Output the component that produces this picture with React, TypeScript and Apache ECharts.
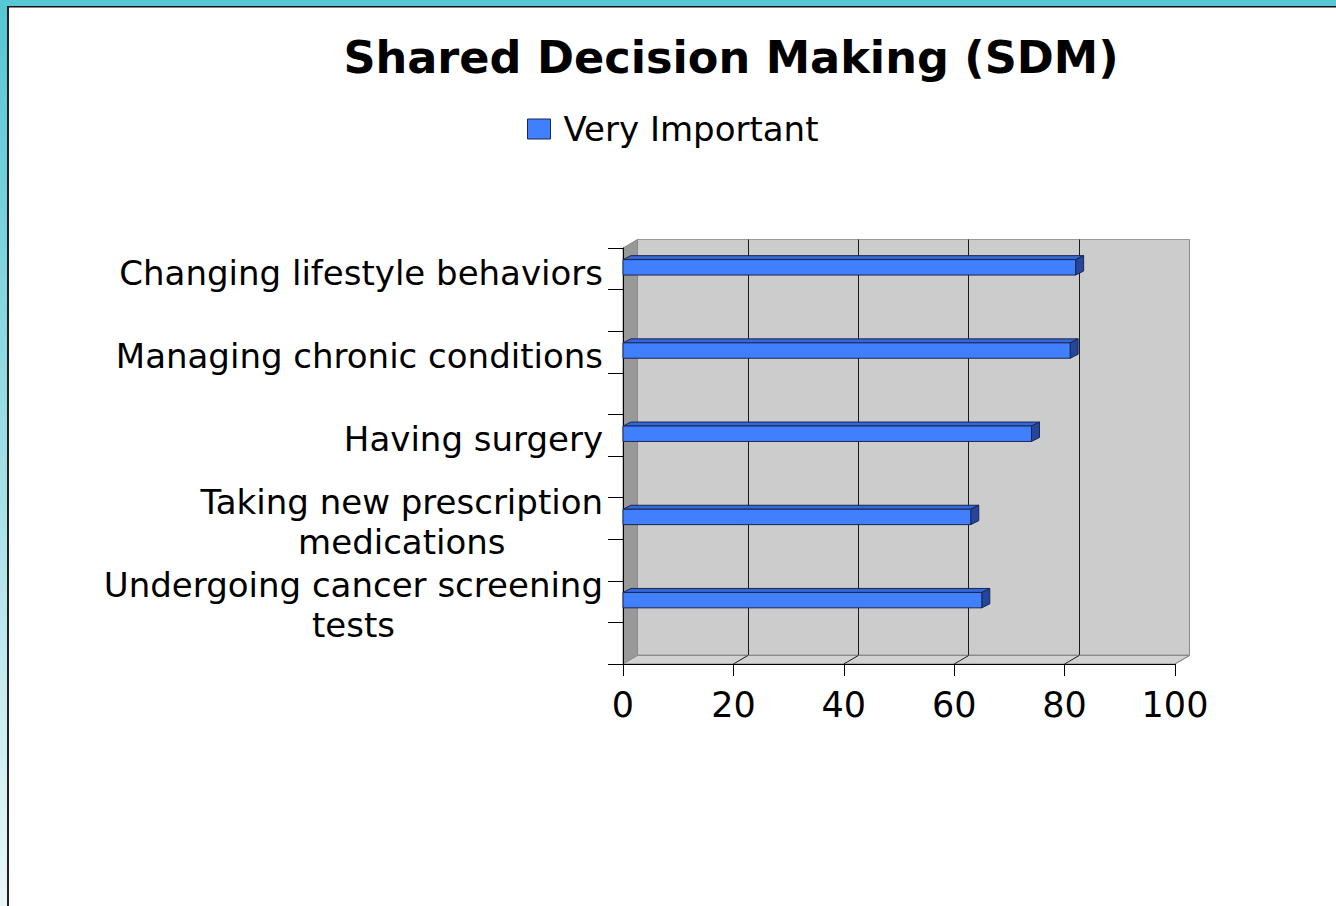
import React, { useEffect, useRef } from 'react';
import * as echarts from 'echarts';

const titleText = 'Shared Decision Making (SDM)';
const seriesName = 'Very Important';
const categories = [
  'Changing lifestyle behaviors',
  'Managing chronic conditions',
  'Having surgery',
  'Taking new prescription\nmedications',
  'Undergoing cancer screening\ntests',
];
const veryImportant = [82, 81, 74, 63, 65];
const xTicks = [0, 20, 40, 60, 80, 100];
const tickSlots = ['', '', '', '', '', '', '', '', '', ''];

const FONT = 'DejaVu Sans';
const WALL_DX = 14.5;
const WALL_DY = 8.5;
const BAR_DX = 8;
const BAR_DY = 4;
const FRONT = { left: 623, top: 248, width: 552, height: 416 };

export default function App() {
  const ref = useRef<HTMLDivElement>(null);
  useEffect(() => {
    if (!ref.current) return;
    const chart = echarts.init(ref.current, undefined, { renderer: 'svg' });
    const option: any = {
      animation: false,
      backgroundColor: '#ffffff',
      title: {
        text: titleText,
        left: 726,
        top: 30,
        textAlign: 'center',
        textStyle: { fontFamily: FONT, fontWeight: 'bold', fontSize: 44.6, color: '#000' },
      },
      legend: {
        left: 527,
        top: 112,
        padding: 0,
        itemWidth: 23,
        itemHeight: 20,
        data: [
          {
            name: seriesName,
            icon: 'rect',
            itemStyle: { color: '#4080ff', borderColor: '#1b2550', borderWidth: 1 },
          },
        ],
        textStyle: { fontFamily: FONT, fontSize: 34, color: '#000', padding: [0, 0, 0, 8] },
      },
      graphic: [
        { type: 'rect', z: -10, shape: { x: 0, y: 0, width: 1336, height: 6 }, style: { fill: '#56c7d3' } },
        {
          type: 'rect',
          z: -10,
          shape: { x: 0, y: 0, width: 7, height: 906 },
          style: {
            fill: new echarts.graphic.LinearGradient(0, 0, 0, 1, [
              { offset: 0, color: '#55c6d3' },
              { offset: 1, color: '#eaf7f9' },
            ]),
          },
        },
        { type: 'rect', z: -9, shape: { x: 7, y: 6, width: 2, height: 900 }, style: { fill: '#222' } },
        { type: 'rect', z: -9, shape: { x: 7, y: 6, width: 1329, height: 1.5 }, style: { fill: '#111' } },
      ],
      grid: [
        { ...FRONT, show: false },
        {
          left: FRONT.left + WALL_DX,
          top: FRONT.top - WALL_DY,
          width: FRONT.width,
          height: FRONT.height - 0.5,
          show: true,
          z: -1,
          backgroundColor: '#cccccc',
          borderColor: '#999999',
          borderWidth: 1,
        },
      ],
      xAxis: [
        {
          type: 'value',
          gridIndex: 0,
          min: 0,
          max: 100,
          interval: 20,
          z: 5,
          axisLine: { show: true, lineStyle: { color: '#000', width: 1 } },
          axisTick: { show: true, length: 12, lineStyle: { color: '#000' } },
          axisLabel: { fontFamily: FONT, fontSize: 35, color: '#000', margin: 23 },
          splitLine: { show: false },
        },
        {
          type: 'value',
          gridIndex: 1,
          min: 0,
          max: 100,
          interval: 20,
          axisLine: { show: false },
          axisTick: { show: false },
          axisLabel: { show: false },
          splitLine: {
            show: true,
            lineStyle: { color: ['#9a9a9a', '#1a1a1a', '#1a1a1a', '#1a1a1a', '#1a1a1a', '#8a8a8a'], width: 1 },
          },
        },
      ],
      yAxis: [
        {
          type: 'category',
          gridIndex: 0,
          position: 'left',
          data: categories,
          inverse: true,
          z: 5,
          axisLine: { show: true, lineStyle: { color: '#000', width: 1 } },
          axisTick: { show: false },
          axisLabel: {
            margin: 20,
            fontFamily: FONT,
            fontSize: 34,
            color: '#000',
            padding: [0, 0, 34, 0],
            formatter: (v: string) =>
              v
                .split('\n')
                .map((s) => '{c|' + s + '}')
                .join('\n'),
            rich: {
              c: { align: 'center', fontFamily: FONT, fontSize: 34, color: '#000', lineHeight: 40 },
            },
          },
        },
        {
          type: 'category',
          gridIndex: 0,
          position: 'left',
          offset: 0,
          data: tickSlots,
          z: 5,
          axisLine: { show: false },
          axisTick: { show: true, length: 15, lineStyle: { color: '#000' } },
          axisLabel: { show: false },
        },
        {
          type: 'value',
          gridIndex: 1,
          min: 0,
          max: 1,
          show: false,
          splitLine: { show: false },
        },
      ],
      series: [
        {
          type: 'custom',
          name: 'walls',
          xAxisIndex: 0,
          yAxisIndex: 0,
          z: 1,
          silent: true,
          clip: false,
          data: xTicks.map((v) => [v, 0]),
          encode: { x: 0, y: 1 },
          renderItem: (params: any, api: any) => {
            const cs = params.coordSys;
            const v = api.value(0);
            const x = api.coord([v, 0])[0];
            const left = cs.x;
            const right = cs.x + cs.width;
            const top = cs.y;
            const bottom = cs.y + cs.height;
            const children: any[] = [];
            if (params.dataIndex === 0) {
              children.push({
                type: 'polygon',
                shape: {
                  points: [
                    [left, top],
                    [left + WALL_DX, top - WALL_DY],
                    [left + WALL_DX, bottom - WALL_DY],
                    [left, bottom],
                  ],
                },
                style: { fill: '#999999', stroke: '#8a8a8a', lineWidth: 1 },
              });
              children.push({
                type: 'polygon',
                shape: {
                  points: [
                    [left, bottom],
                    [left + WALL_DX, bottom - WALL_DY],
                    [right + WALL_DX, bottom - WALL_DY],
                    [right, bottom],
                  ],
                },
                style: { fill: '#d2d2d2', stroke: '#8a8a8a', lineWidth: 1 },
              });
            }
            if (v > 0) {
              children.push({
                type: 'line',
                shape: { x1: x, y1: bottom, x2: x + WALL_DX, y2: bottom - WALL_DY },
                style: { stroke: v === 100 ? '#8a8a8a' : '#1a1a1a', lineWidth: 1 },
              });
            }
            return { type: 'group', children };
          },
        },
        {
          type: 'custom',
          name: seriesName,
          xAxisIndex: 0,
          yAxisIndex: 0,
          z: 10,
          clip: false,
          itemStyle: { color: '#4080ff' },
          data: veryImportant.map((v, i) => [v, i]),
          encode: { x: 0, y: 1 },
          renderItem: (params: any, api: any) => {
            const v = api.value(0);
            const i = api.value(1);
            const band = api.size([0, 1])[1];
            const c = api.coord([v, i]);
            const x0 = api.coord([0, i])[0];
            const x1 = c[0];
            const bandTop = c[1] - band / 2;
            const yTop = bandTop + band * 0.14;
            const yBot = yTop + band * 0.185;
            const stroke = '#1b2550';
            return {
              type: 'group',
              children: [
                {
                  type: 'polygon',
                  shape: {
                    points: [
                      [x0, yTop],
                      [x0 + BAR_DX, yTop - BAR_DY],
                      [x1 + BAR_DX, yTop - BAR_DY],
                      [x1, yTop],
                    ],
                  },
                  style: { fill: '#3468d8', stroke, lineWidth: 1 },
                },
                {
                  type: 'polygon',
                  shape: {
                    points: [
                      [x1, yTop],
                      [x1 + BAR_DX, yTop - BAR_DY],
                      [x1 + BAR_DX, yBot - BAR_DY],
                      [x1, yBot],
                    ],
                  },
                  style: { fill: '#24479c', stroke, lineWidth: 1 },
                },
                {
                  type: 'rect',
                  shape: { x: x0, y: yTop, width: x1 - x0, height: yBot - yTop },
                  style: { fill: '#4080ff', stroke, lineWidth: 1 },
                },
              ],
            };
          },
        },
      ],
    };
    chart.setOption(option);
    return () => chart.dispose();
  }, []);
  return (
    <div
      ref={ref}
      style={{ position: 'fixed', left: 0, top: 0, width: 1336, height: 906 }}
    />
  );
}
